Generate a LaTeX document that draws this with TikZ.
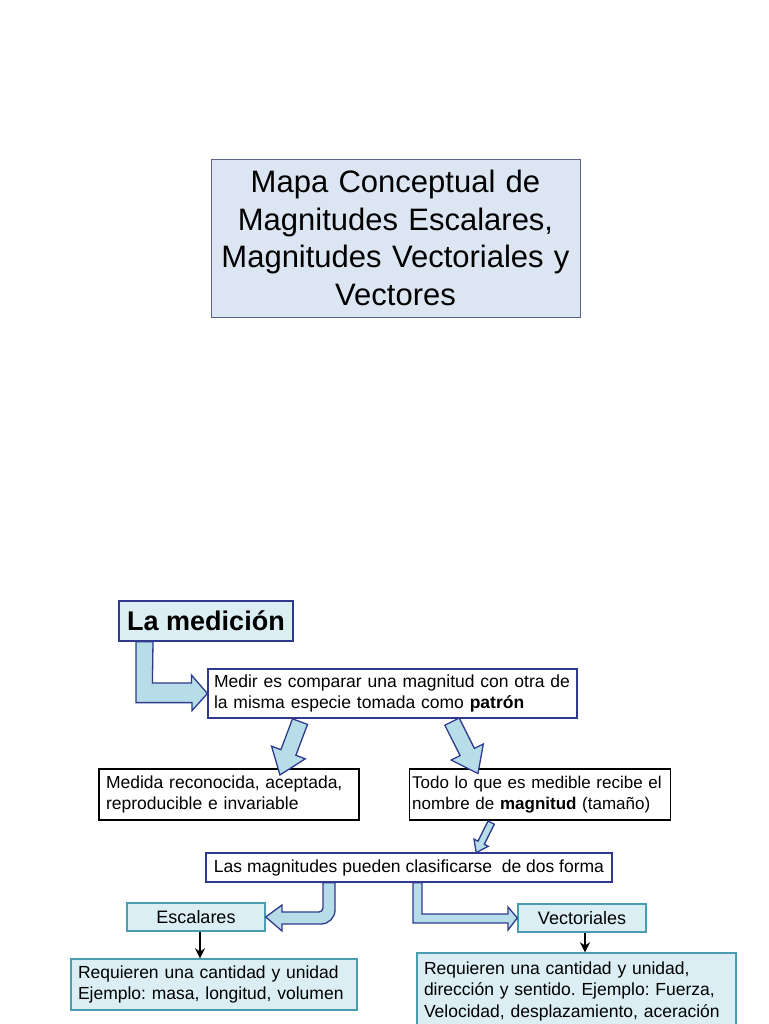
\documentclass[tikz,border=0pt]{standalone}
\usepackage{fontspec}
\setmainfont{Liberation Sans}
\usetikzlibrary{arrows.meta, positioning, calc}
\frenchspacing

\definecolor{titlefill}{HTML}{DCE6F2}
\definecolor{titledraw}{HTML}{5B6483}
\definecolor{navy}{HTML}{2F3A8F}
\definecolor{arrowfill}{HTML}{B7DEE8}
\definecolor{tealfill}{HTML}{DAEEF3}
\definecolor{tealdraw}{HTML}{4A9DB0}

\begin{document}
\begin{tikzpicture}[
    x=1pt, y=-1pt,
    >={Stealth[length=10pt, width=10pt]},
    box/.style={rectangle, draw, line width=1.2pt, inner ysep=0pt, inner xsep=7pt, align=left, font=\fontsize{17.5}{21.5}\selectfont},
    titlebox/.style={box, draw=titledraw, fill=titlefill, line width=0.9pt, inner xsep=6pt, align=center, font=\fontsize{31}{37.5}\selectfont},
    keybox/.style={box, draw=navy, fill=tealfill, align=center, font=\fontsize{27}{30}\selectfont\bfseries},
    navybox/.style={box, draw=navy, fill=white},
    plainbox/.style={box, draw=black, fill=white},
    tealbox/.style={box, draw=tealdraw, fill=tealfill, line width=1.4pt},
    kindbox/.style={tealbox, align=center, font=\fontsize{18}{21}\selectfont},
    blockarrow/.style={draw=navy, fill=arrowfill, line width=1.3pt},
    linkarrow/.style={->, line width=1.8pt, black},
]

\useasboundingbox (0,0) rectangle (768,1024);
\fill[white] (0,0) rectangle (768,1024);
\clip (0,0) rectangle (768,1024);

% === Title ===
\node (title) [titlebox, text width=357pt, minimum height=158pt] at (395.5,238)
    {Mapa Conceptual de\\Magnitudes Escalares,\\Magnitudes Vectoriales y\\Vectores};

% === Medicion ===
\node (medicion) [keybox, minimum width=174pt, minimum height=40pt] at (206,621) {La medición};
\node (medir) [navybox, text width=357pt, inner xsep=6pt, minimum height=49pt] at (392.5,693.5)
    {Medir es comparar una magnitud con otra de\\la misma especie tomada como \textbf{patrón}};

% === Patron / magnitud ===
\node (medida) [plainbox, text width=246pt, minimum height=51pt] at (229,794.5)
    {Medida reconocida, aceptada,\\reproducible e invariable};
\node (todo) [plainbox, text width=255pt, inner xsep=3pt, minimum height=51pt, right=49pt of medida,
    font=\fontsize{17}{21.5}\selectfont]
    {Todo lo que es medible recibe el\\nombre de \textbf{magnitud} (tamaño)};

% === Clasificacion ===
\node (las) [navybox, align=center, minimum width=406pt, minimum height=29pt] at (409,867.5)
    {Las magnitudes pueden clasificarse~ de dos forma};
\node (escalares) [kindbox, minimum width=138pt, minimum height=28pt] at (196,917) {Escalares};
\node (vectoriales) [kindbox, minimum width=128pt, minimum height=28pt] at (582,918) {Vectoriales};

\node (req1) [tealbox, text width=272pt, minimum height=51pt] at (214,984.5)
    {Requieren una cantidad y unidad\\Ejemplo: masa, longitud, volumen};
\node (req2) [tealbox, text width=305pt, minimum height=76pt] at (576.5,991)
    {Requieren una cantidad y unidad,\\dirección y sentido. Ejemplo: Fuerza,\\Velocidad, desplazamiento, aceración};

% === Block arrows ===
\draw[blockarrow] ($(medicion.south)+(-70,0)$) -- ++(0,61) -- ++(56,0) -- ++(0,8) -- (medir.west)
    -- ++(-16,-18.5) -- ++(0,8) -- ++(-39,0) -- ($(medicion.south)+(-53,0)$) -- cycle;

\begin{scope}[shift={($(medir.south)+(-92.5,3)$)}, rotate=-110.6]
    \draw[blockarrow] (0,-8) -- (33,-8) -- (33,-18) -- (57,0) -- (33,18) -- (33,8) -- (0,8) -- cycle;
\end{scope}
\begin{scope}[shift={($(medir.south)+(59.5,3)$)}, rotate=-63.4]
    \draw[blockarrow] (0,-8) -- (34,-8) -- (34,-18) -- (58,0) -- (34,18) -- (34,8) -- (0,8) -- cycle;
\end{scope}
\begin{scope}[shift={($(todo.south)+(-48.5,2)$)}, rotate=-116.6]
    \draw[blockarrow] (0,-3.5) -- (22.5,-3.5) -- (22.5,-8) -- (33.5,0) -- (22.5,8) -- (22.5,3.5) -- (0,3.5) -- cycle;
\end{scope}

% las to escalares (rounded bend)
\draw[blockarrow] ($(las.south)+(-86,0)$) -- (323,908) .. controls (323,910.2) and (320.8,912) .. (319,912)
    -- (282,912) -- (282,905) -- (escalares.east) -- (282,931) -- (282,924) -- (321,924)
    .. controls (328.7,924) and (335,917.7) .. (335,910) -- ($(las.south)+(-74,0)$) -- cycle;

% las to vectoriales
\draw[blockarrow] ($(las.south)+(4,0)$) -- (413,923) -- (508,923) -- (508,930) -- (vectoriales.west)
    -- (508,907) -- (508,914) -- (422,914) -- ($(las.south)+(13,0)$) -- cycle;

% === Thin arrows ===
\draw[linkarrow] ([xshift=4pt]escalares.south) -- ([xshift=4pt]escalares.south |- req1.north);
\draw[linkarrow] ([xshift=3pt]vectoriales.south) -- ([xshift=3pt]vectoriales.south |- req2.north);

\end{tikzpicture}
\end{document}
